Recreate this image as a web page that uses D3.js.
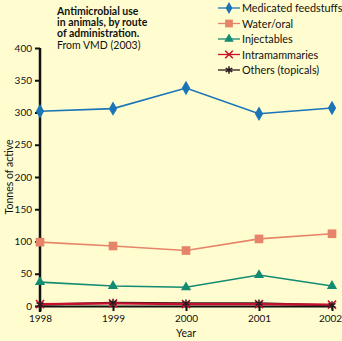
<!DOCTYPE html>
<html>
<head>
<meta charset="utf-8">
<script src="https://d3js.org/d3.v7.min.js"></script>
<style>
  body { margin: 0; background: #fffdcf; overflow: hidden; }
  svg { display: block; font-family: Lato, "Open Sans", sans-serif; }
</style>
</head>
<body>
<script>
var years = [1998, 1999, 2000, 2001, 2002];
var yTicks = [0, 50, 100, 150, 200, 250, 300, 350, 400];
var seriesNames = ["Medicated feedstuffs", "Water/oral", "Injectables", "Intramammaries", "Others (topicals)"];
var medicated = [302, 306, 338, 298, 307];
var waterOral = [99, 93, 86, 104, 112];
var injectables = [37, 31, 29, 48, 31];
var intramammaries = [3, 4, 3, 3, 2];
var others = [2, 5, 4, 4, 1];
var titleLines = ["Antimicrobial use", "in animals, by route", "of administration."];

var colors = ["#1a74b8", "#e6846a", "#138a72", "#c8102e", "#2a1a20"];
var symbols = [d3.symbolDiamond, d3.symbolSquare, d3.symbolTriangle, d3.symbolX, d3.symbolAsterisk];
var values = [medicated, waterOral, injectables, intramammaries, others];

var svg = d3.select("body").append("svg")
    .attr("width", 342)
    .attr("height", 341);

var x = d3.scaleLinear().domain([1998, 2002]).range([40, 332]);
var y = d3.scaleLinear().domain([0, 400]).range([306, 48]);

// y axis
var yAxisG = svg.append("g")
    .attr("transform", "translate(40,0)")
    .call(d3.axisLeft(y).tickValues(yTicks).tickSize(5).tickSizeOuter(0));
yAxisG.attr("font-family", "Lato").attr("font-size", 10);
yAxisG.select(".domain").attr("stroke", "#111").attr("stroke-width", 2.5)
    .attr("d", "M0," + y(400) + "V" + (y(0) + 6));
yAxisG.selectAll(".tick line").attr("stroke", "#111").attr("stroke-width", 2);
yAxisG.selectAll(".tick text").attr("x", -8).attr("fill", "#111");

// x axis
var xAxisG = svg.append("g")
    .attr("transform", "translate(0," + y(0) + ")")
    .call(d3.axisBottom(x).tickValues(years).tickFormat(d3.format("d")).tickSize(5).tickSizeOuter(0));
xAxisG.attr("font-family", "Lato").attr("font-size", 10);
xAxisG.select(".domain").attr("stroke", "#111").attr("stroke-width", 2);
xAxisG.selectAll(".tick line").attr("stroke", "#111").attr("stroke-width", 2);
xAxisG.selectAll(".tick text").attr("y", 9).attr("fill", "#111");
xAxisG.selectAll(".tick text").filter(function (d) { return d === 2002; }).attr("dx", -2);

// lines
var line = d3.line()
    .x(function (d, i) { return x(years[i]); })
    .y(function (d) { return y(d); });

for (var s = values.length - 1; s >= 0; s--) {
    svg.append("path")
        .attr("d", line(values[s]))
        .attr("fill", "none")
        .attr("stroke", colors[s])
        .attr("stroke-width", s >= 3 ? 2.2 : 1.6);
}
values.forEach(function (vals, k) {
    var sym = d3.symbol().type(symbols[k]).size(k === 1 ? 75 : (k === 0 ? 60 : 45));
    svg.append("g").selectAll("path")
        .data(vals)
        .enter().append("path")
        .attr("transform", function (d, i) { return "translate(" + x(years[i]) + "," + y(d) + ")"; })
        .attr("d", sym)
        .attr("fill", colors[k])
        .attr("stroke", k >= 3 ? colors[k] : "none")
        .attr("stroke-width", 1.5);
});

// legend
var legend = svg.append("g");
seriesNames.forEach(function (name, k) {
    var ly = 8 + k * 15.5;
    legend.append("line")
        .attr("x1", 218).attr("x2", 240)
        .attr("y1", ly).attr("y2", ly)
        .attr("stroke", colors[k]).attr("stroke-width", 1.3);
    legend.append("path")
        .attr("transform", "translate(229," + ly + ")")
        .attr("d", d3.symbol().type(symbols[k]).size(k === 1 ? 60 : 40))
        .attr("fill", colors[k])
        .attr("stroke", k >= 3 ? colors[k] : "none")
        .attr("stroke-width", 1.5);
    legend.append("text")
        .attr("x", 242).attr("y", ly + 4)
        .attr("font-size", 10.8)
        .attr("fill", "#111")
        .text(name);
});

// title
var titleText = svg.append("text")
    .attr("font-size", 10.5)
    .attr("fill", "#111");
titleLines.forEach(function (t, i) {
    titleText.append("tspan")
        .attr("x", 57).attr("y", 14.5 + i * 11)
        .attr("font-weight", "bold")
        .text(t);
});
titleText.append("tspan")
    .attr("x", 57).attr("y", 48.5)
    .text("From VMD (2003)");

// axis labels
svg.append("text")
    .attr("transform", "translate(13,177) rotate(-90)")
    .attr("text-anchor", "middle")
    .attr("font-size", 10.5)
    .attr("fill", "#111")
    .text("Tonnes of active");
svg.append("text")
    .attr("x", 186).attr("y", 337)
    .attr("text-anchor", "middle")
    .attr("font-size", 10.5)
    .attr("fill", "#111")
    .text("Year");
</script>
</body>
</html>
